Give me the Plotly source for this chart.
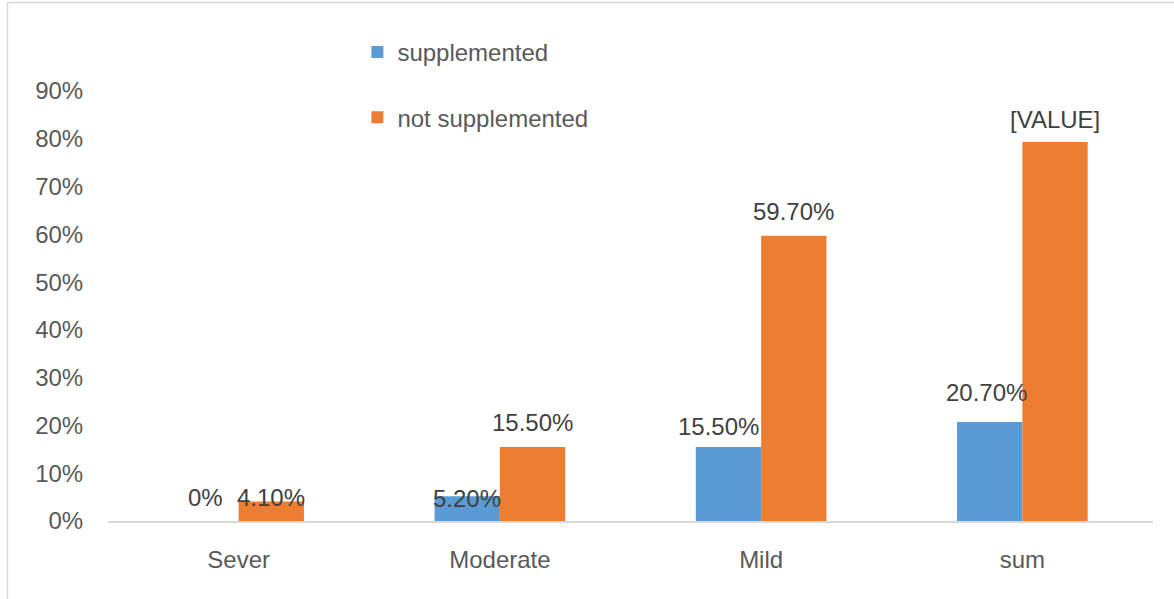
import plotly.graph_objects as go

categories = ["Sever", "Moderate", "Mild", "sum"]
supplemented = [0.0, 0.052, 0.155, 0.207]
not_supplemented = [0.041, 0.155, 0.597, 0.793]
supp_labels = ["0%", "5.20%", "15.50%", "20.70%"]
not_supp_labels = ["4.10%", "15.50%", "59.70%", "[VALUE]"]
y_ticks = [0, 0.1, 0.2, 0.3, 0.4, 0.5, 0.6, 0.7, 0.8, 0.9]
y_tick_text = ["0%", "10%", "20%", "30%", "40%", "50%", "60%", "70%", "80%", "90%"]

BLUE = "#5B9BD5"
ORANGE = "#ED7D31"
FONT = "Liberation Sans, Arial, sans-serif"

W, H = 1174, 599
ML, MR, MT, MB = 107.5, 21, 91, 78

fig = go.Figure()
fig.add_trace(go.Bar(x=categories, y=supplemented, name="supplemented",
                     marker=dict(color=BLUE, line=dict(width=0)), legendgroup="a"))
fig.add_trace(go.Bar(x=categories, y=not_supplemented, name="not supplemented",
                     marker=dict(color=ORANGE, line=dict(width=0)), legendgroup="b"))

# data label placement tweaks (pixel offsets, styling only)
supp_shift = [(0, 24), (0, -2), (-10, 20), (-3, 30)]
not_shift = [(0, 4), (0, 24), (0, 24), (0, 23)]
annotations = []
for i, cat in enumerate(categories):
    dx, dy = supp_shift[i]
    annotations.append(dict(x=i - 0.125, y=supplemented[i], xref="x", yref="y",
                            text=supp_labels[i], showarrow=False, xshift=dx, yshift=dy,
                            font=dict(family=FONT, size=24, color="#404040")))
    dx, dy = not_shift[i]
    annotations.append(dict(x=i + 0.125, y=not_supplemented[i], xref="x", yref="y",
                            text=not_supp_labels[i], showarrow=False, xshift=dx, yshift=dy,
                            font=dict(family=FONT, size=24, color="#404040")))

pw = W - ML - MR
ph = H - MT - MB
fig.add_shape(type="rect", xref="paper", yref="paper",
              x0=(7 - ML) / pw, x1=(W + 10 - ML) / pw,
              y0=-(H + 10 - MT - ph) / ph - 1, y1=1 + (MT - 2.5) / ph,
              line=dict(color="#D9D9D9", width=1.5), layer="below")

fig.update_layout(
    width=W, height=H,
    margin=dict(l=ML, r=MR, t=MT, b=MB),
    paper_bgcolor="white", plot_bgcolor="white",
    barmode="group", bargap=0.5, bargroupgap=0,
    font=dict(family=FONT, size=24, color="#595959"),
    annotations=annotations,
    showlegend=True,
    legend=dict(x=(357 - ML) / pw, xanchor="left", y=1 + (MT - 30) / ph, yanchor="top",
                tracegroupgap=31, font=dict(size=24, color="#595959"),
                bgcolor="rgba(0,0,0,0)"),
    xaxis=dict(showgrid=False, showline=True, linecolor="#D9D9D9", linewidth=1.5,
               ticks="outside", ticklen=16, tickcolor="rgba(0,0,0,0)",
               tickfont=dict(size=24, color="#595959"), fixedrange=True),
    yaxis=dict(range=[0, 0.9], tickvals=y_ticks, ticktext=y_tick_text, showgrid=False,
               zeroline=False, showline=False, ticks="outside", ticklen=19,
               tickcolor="rgba(0,0,0,0)", tickfont=dict(size=24, color="#595959"),
               fixedrange=True),
)

fig.write_html("out.html")
